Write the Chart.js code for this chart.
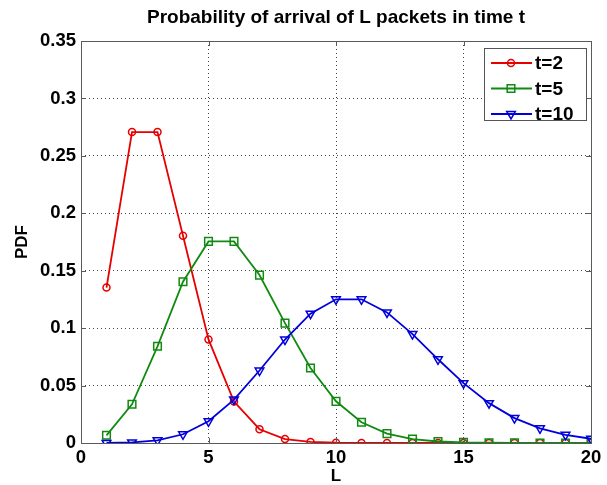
<!DOCTYPE html>
<html>
<head>
<meta charset="utf-8">
<script src="https://cdn.jsdelivr.net/npm/chart.js@4/dist/chart.umd.min.js"></script>
<style>
  html, body { margin: 0; padding: 0; background: #fff; }
  canvas { display: block; }
</style>
</head>
<body>
<canvas id="grafico" width="607" height="485"></canvas>
<script>
// L values and PDF for each t
const L = [1, 2, 3, 4, 5, 6, 7, 8, 9, 10, 11, 12, 13, 14, 15, 16, 17, 18, 19, 20];
const pdfT2 = [0.1353, 0.2707, 0.2707, 0.1804, 0.0902, 0.0361, 0.0120, 0.0034, 0.0009, 0.0002,
  0.00004, 0.00001, 0, 0, 0, 0, 0, 0, 0, 0];
const pdfT5 = [0.0067, 0.0337, 0.0842, 0.1404, 0.1755, 0.1755, 0.1462, 0.1044, 0.0653, 0.0363,
  0.0181, 0.0082, 0.0034, 0.0013, 0.0005, 0.0002, 0.00005, 0.00001, 0, 0];
const pdfT10 = [0.00005, 0.0005, 0.0023, 0.0076, 0.0189, 0.0378, 0.0631, 0.0901, 0.1126, 0.1251,
  0.1251, 0.1137, 0.0948, 0.0729, 0.0521, 0.0347, 0.0217, 0.0128, 0.0071, 0.0037];
const xTicks = [0, 5, 10, 15, 20];
const yTicks = [0, 0.05, 0.1, 0.15, 0.2, 0.25, 0.3, 0.35];

const FONT = "'Liberation Sans', Arial, Helvetica, sans-serif";
const toPts = ys => L.map((x, i) => ({ x: x, y: ys[i] }));

// frame + inward ticks, matlab style
const frame = {
  id: "frame",
  afterDatasetsDraw(chart) {
    const { ctx, chartArea: a, scales } = chart;
    ctx.save();
    ctx.strokeStyle = "#5a5a5a";
    ctx.lineWidth = 1;
    ctx.beginPath();
    yTicks.forEach(v => {
      const y = Math.round(scales.y.getPixelForValue(v)) + 0.5;
      ctx.moveTo(a.left, y); ctx.lineTo(a.left + 5, y);
      ctx.moveTo(a.right, y); ctx.lineTo(a.right - 5, y);
    });
    xTicks.forEach(v => {
      const x = Math.round(scales.x.getPixelForValue(v)) + 0.5;
      ctx.moveTo(x, a.bottom); ctx.lineTo(x, a.bottom - 5);
      ctx.moveTo(x, a.top); ctx.lineTo(x, a.top + 5);
    });
    ctx.stroke();
    ctx.strokeRect(Math.round(a.left) + 0.5, Math.round(a.top) + 0.5,
      Math.round(a.right - a.left), Math.round(a.bottom - a.top));
    ctx.restore();
  }
};

// legend box in the top right corner of the axes
function marker(ctx, style, x, y, r) {
  ctx.beginPath();
  if (style === "circle") {
    ctx.arc(x, y, r, 0, Math.PI * 2);
  } else if (style === "rect") {
    ctx.rect(x - r, y - r, 2 * r, 2 * r);
  } else {
    ctx.moveTo(x - r * 0.87, y - r * 0.5);
    ctx.lineTo(x + r * 0.87, y - r * 0.5);
    ctx.lineTo(x, y + r);
    ctx.closePath();
  }
  ctx.stroke();
}

const boxLegend = {
  id: "boxLegend",
  afterDraw(chart) {
    const { ctx } = chart;
    const left = 484, top = 48, w = 102, h = 72;
    ctx.save();
    ctx.fillStyle = "#fff";
    ctx.fillRect(left, top, w, h);
    ctx.strokeStyle = "#555";
    ctx.lineWidth = 1;
    ctx.strokeRect(left + 0.5, top + 0.5, w, h);
    const sizes = { circle: 3.5, rect: 3.8, triangle: 5 };
    chart.data.datasets.forEach((ds, i) => {
      const y = top + 15 + i * 25.5;
      ctx.strokeStyle = ds.borderColor;
      ctx.lineWidth = 1.8;
      ctx.beginPath();
      ctx.moveTo(491, y); ctx.lineTo(532, y);
      ctx.stroke();
      ctx.lineWidth = 1.5;
      marker(ctx, ds.pointStyle, 511, y, sizes[ds.pointStyle]);
      ctx.fillStyle = "#000";
      ctx.font = "bold 19px " + FONT;
      ctx.textBaseline = "middle";
      ctx.fillText(ds.label, 535, y + 1);
    });
    ctx.restore();
  }
};

new Chart(document.getElementById("grafico"), {
  type: "line",
  data: {
    datasets: [
      {
        label: "t=2", data: toPts(pdfT2), order: 3,
        borderColor: "#e60000", backgroundColor: "transparent",
        pointStyle: "circle", pointRadius: 3.5, pointBorderWidth: 1.5,
        pointBackgroundColor: "transparent", borderWidth: 1.8
      },
      {
        label: "t=5", data: toPts(pdfT5), order: 2,
        borderColor: "#108a10", backgroundColor: "transparent",
        pointStyle: "rect", pointRadius: 5.4, pointBorderWidth: 1.5,
        pointBackgroundColor: "transparent", borderWidth: 1.8
      },
      {
        label: "t=10", data: toPts(pdfT10), order: 1,
        borderColor: "#0000dc", backgroundColor: "transparent",
        pointStyle: "triangle", pointRotation: 180, pointRadius: 5, pointBorderWidth: 1.5,
        pointBackgroundColor: "transparent", borderWidth: 1.8
      }
    ]
  },
  options: {
    responsive: false,
    animation: false,
    events: [],
    layout: { padding: { left: 0, right: 16, top: 0, bottom: 0 } },
    plugins: {
      legend: { display: false },
      tooltip: { enabled: false },
      title: {
        display: true,
        text: "Probability of arrival of L packets in time t",
        color: "#000",
        fullSize: false,
        font: { family: FONT, size: 19, weight: "bold" },
        padding: { top: 6.6, bottom: 11.6 }
      }
    },
    scales: {
      x: {
        type: "linear", min: 0, max: 20,
        afterBuildTicks: s => { s.ticks = xTicks.map(v => ({ value: v })); },
        afterFit: s => { s.height = 42; },
        ticks: { color: "#000", padding: 3.5, font: { family: FONT, size: 18.5, weight: "bold" } },
        grid: { color: "#444", drawTicks: false, lineWidth: 1 },
        border: { display: false, dash: [1, 3] },
        title: {
          display: true, text: "L", color: "#000",
          font: { family: FONT, size: 17, weight: "bold" },
          padding: { top: 0, bottom: -2 }
        }
      },
      y: {
        min: 0, max: 0.35,
        afterBuildTicks: s => { s.ticks = yTicks.map(v => ({ value: v })); },
        afterFit: s => { s.width = 81; },
        ticks: {
          color: "#000", padding: 5,
          font: { family: FONT, size: 18.5, weight: "bold" },
          callback: v => String(+v.toFixed(2))
        },
        grid: { color: "#444", drawTicks: false, lineWidth: 1 },
        border: { display: false, dash: [1, 3] },
        title: {
          display: true, text: "PDF", color: "#000",
          font: { family: FONT, size: 17, weight: "bold" },
          padding: { top: 12, bottom: 0 }
        }
      }
    }
  },
  plugins: [frame, boxLegend]
});
</script>
</body>
</html>
